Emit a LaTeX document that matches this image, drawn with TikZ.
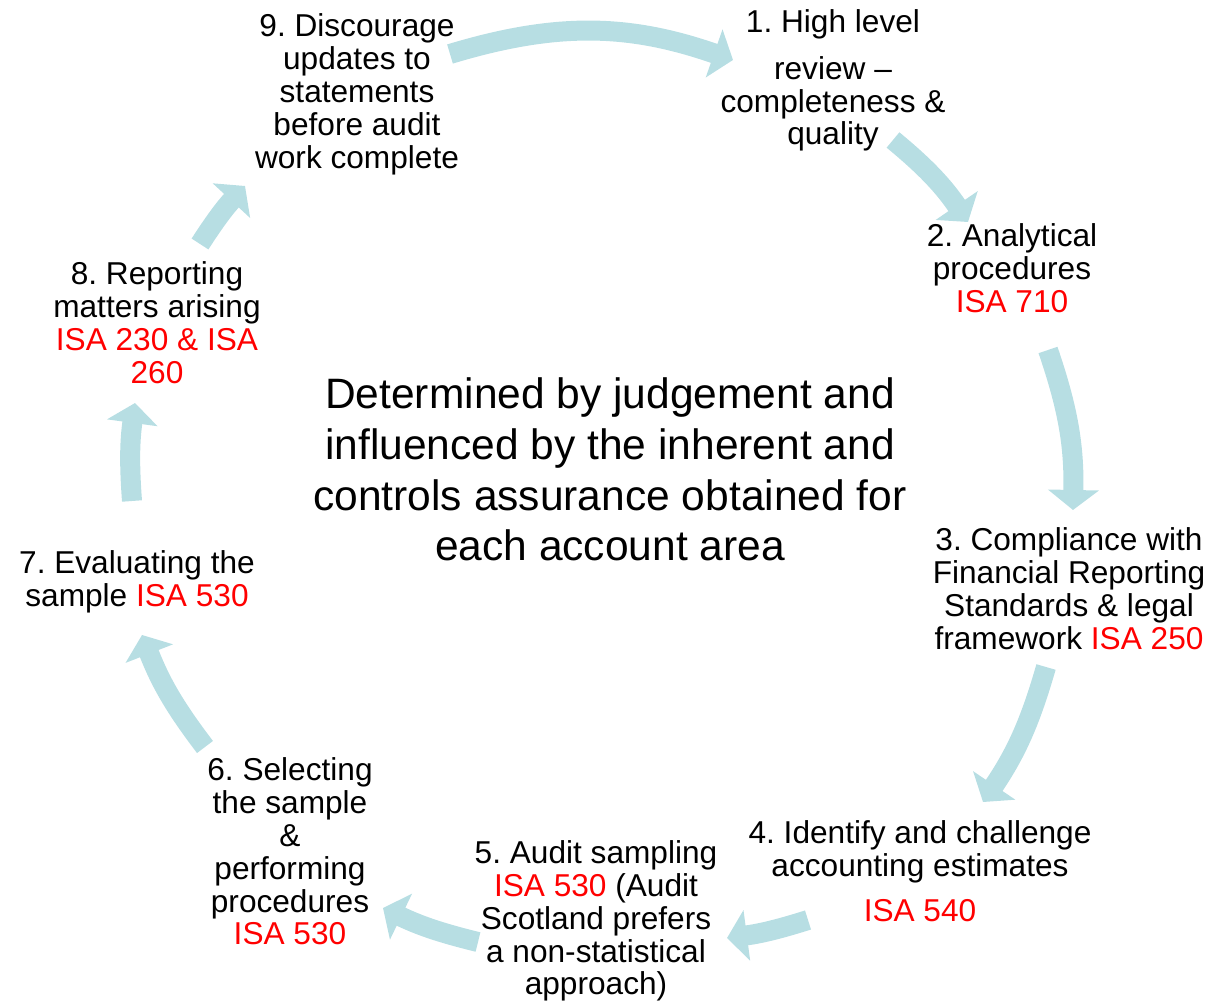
\documentclass[tikz,border=0pt]{standalone}
\usepackage{fontspec}
\setmainfont{Liberation Sans}
\usetikzlibrary{arrows.meta}
\definecolor{cyclefill}{RGB}{183,222,227}
\definecolor{isared}{RGB}{255,0,0}
\newcommand{\isa}[1]{\textcolor{isared}{#1}}
\frenchspacing
\begin{document}
\begin{tikzpicture}[x=0.02cm,y=0.02cm,
  steptext/.style={align=center, inner sep=0pt, font=\fontsize{18pt}{18.7pt}\selectfont},
  hubtext/.style={align=center, inner sep=0pt, font=\fontsize{24.2pt}{28.9pt}\selectfont},
  cyc/.style={draw=cyclefill, line width=0.4cm, line cap=butt,
              -{Triangle[width=1cm,length=0.4cm]}},
]
\useasboundingbox (0,0) rectangle (1209,1001);

% step labels around the cycle
\node[steptext] (n1) at (833,920.5) {1. High level\\[0.28cm]review --\\completeness \&\\quality};
\node[steptext] (n2) at (1012,732.5) {2. Analytical\\procedures\\\isa{ISA 710}};
\node[steptext] (n3) at (1069,412.5) {3. Compliance with\\Financial Reporting\\Standards \& legal\\framework \isa{ISA 250}};
\node[steptext] (n4) at (920,130) {4. Identify and challenge\\accounting estimates\\[0.24cm]\isa{ISA 540}};
\node[steptext] (n5) at (596,80) {5. Audit sampling\\\isa{ISA 530} (Audit\\Scotland prefers\\a non-statistical\\approach)};
\node[steptext] (n6) at (290,149.5) {6. Selecting\\the sample\\\&\\performing\\procedures\\\isa{ISA 530}};
\node[steptext] (n7) at (137,419.5) {7. Evaluating the\\sample \isa{ISA 530}};
\node[steptext] (n8) at (157,678.5) {8. Reporting\\matters arising\\\isa{ISA 230 \& ISA}\\\isa{260}};
\node[steptext] (n9) at (357,906.5) {9. Discourage\\updates to\\statements\\before audit\\work complete};

% central statement
\node[hubtext] (hub) at (610,531.5) {Determined by judgement and\\influenced by the inherent and\\controls assurance obtained for\\each account area};

% ends of the curved cycle arrows
\coordinate (a1s) at (450,947);  \coordinate (a1e) at (733,941);
\coordinate (a2s) at (893,861);  \coordinate (a2e) at (968,779);
\coordinate (a3s) at (1048,651); \coordinate (a3e) at (1073,491);
\coordinate (a4s) at (1046,334); \coordinate (a4e) at (983,199);
\coordinate (a5s) at (808,81);   \coordinate (a5e) at (727,63);
\coordinate (a6s) at (478,59);   \coordinate (a6e) at (383,93);
\coordinate (a7s) at (205,254);  \coordinate (a7e) at (142,366);
\coordinate (a8s) at (132,500);  \coordinate (a8e) at (135,598);
\coordinate (a9s) at (200,757);  \coordinate (a9e) at (245,815);

\draw[cyc] (a1s) to[bend left=18] (a1e);
\draw[cyc] (a2s) to[bend left=8] (a2e);
\draw[cyc] (a3s) to[bend left=10] (a3e);
\draw[cyc] (a4s) to[bend left=9] (a4e);
\draw[cyc] (a5s) to[bend left=5] (a5e);
\draw[cyc] (a6s) to[bend left=6] (a6e);
\draw[cyc] (a7s) to[bend left=8] (a7e);
\draw[cyc] (a8s) to[bend left=6] (a8e);
\draw[cyc] (a9s) to[bend left=5] (a9e);
\end{tikzpicture}
\end{document}
